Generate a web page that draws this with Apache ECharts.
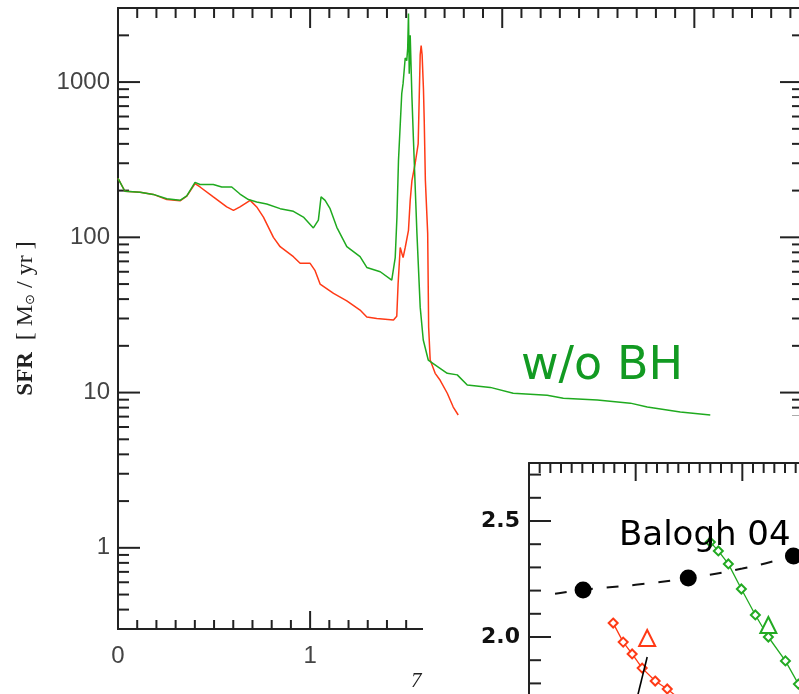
<!DOCTYPE html>
<html><head><meta charset="utf-8">
<script src="https://cdn.jsdelivr.net/npm/echarts@6/dist/echarts.min.js"></script>
<style>html,body{margin:0;padding:0;background:#fff}#c{width:799px;height:694px}</style>
</head><body><div id="c"></div><script>
// ---- main panel data (time in Gyr, SFR in Msun/yr) ----
const greenT = [0.000,0.008,0.036,0.115,0.184,0.254,0.323,0.358,0.401,0.427,0.496,0.540,0.592,0.635,0.679,0.722,0.774,0.844,0.913,0.965,1.017,1.043,1.057,1.078,1.104,1.139,1.191,1.260,1.295,1.365,1.425,1.443,1.452,1.460,1.477,1.484,1.495,1.503,1.508,1.512,1.516,1.521,1.530,1.538,1.556,1.573,1.589,1.615,1.667,1.714,1.766,1.818,1.938,2.057,2.234,2.318,2.495,2.667,2.755,2.927,3.083];
const greenSFR = [240,236,198,195,189,177,173,185,226,219,219,211,211,190,175,169,164,153,147,135,115,129,182,173,153,116,87,75,64,60,53,74,135,313,844,980,1430,1375,1650,2760,1130,2000,800,421,106,35.5,21.8,16.2,14.6,13.3,13.0,11.2,10.8,9.9,9.6,9.2,8.95,8.55,8.07,7.5,7.17];
const redT = [0.000,0.008,0.036,0.115,0.184,0.254,0.323,0.358,0.401,0.427,0.496,0.566,0.601,0.635,0.688,0.722,0.757,0.809,0.844,0.913,0.948,1.000,1.026,1.052,1.122,1.191,1.260,1.295,1.347,1.434,1.451,1.458,1.469,1.477,1.484,1.495,1.512,1.521,1.530,1.547,1.5625,1.568,1.573,1.578,1.583,1.590,1.594,1.600,1.612,1.617,1.625,1.651,1.677,1.714,1.745,1.771];
const redSFR = [240,236,198,195,189,175,172,184,222,211,182,157,149,157,173,157,135,100,87,75,68,68,61,50,43.5,39,34,30.7,30,29.3,31,50,86,86,74,86,111,173,232,300,400,800,1500,1717,1500,900,565,232,106,26.4,16.2,13.3,12.0,9.9,8.07,7.17];
const sfrMajorTicks = [1, 10, 100, 1000];
const sfrMinorTicks = [0.4,0.5,0.6,0.7,0.8,0.9,2,3,4,5,6,7,8,9,20,30,40,50,60,70,80,90,200,300,400,500,600,700,800,900,2000];
const timeMajorTicks = [1, 2, 3];
const timeMinorTicks = [0.1,0.2,0.3,0.4,0.5,0.6,0.7,0.8,0.9,1.1,1.2,1.3,1.4,1.5,1.6,1.7,1.8,1.9,2.1,2.2,2.3,2.4,2.5,2.6,2.7,2.8,2.9,3.1,3.2,3.3,3.4,3.5];

// ---- inset data ----
const baloghX = [0.507, 1.493, 2.479];
const baloghY = [2.203, 2.254, 2.349];
const baloghFitX = [0.244, 0.507, 1.0, 1.493, 2.0, 2.479, 3.0];
const baloghFitY = [2.186, 2.203, 2.225, 2.254, 2.295, 2.349, 2.41];
const insetGreenX = [1.700, 1.775, 1.869, 1.991, 2.122, 2.244, 2.404, 2.526, 2.640];
const insetGreenY = [2.409, 2.371, 2.315, 2.207, 2.095, 2.000, 1.897, 1.797, 1.705];
const insetRedX = [0.789, 0.883, 0.967, 1.061, 1.183, 1.296, 1.420];
const insetRedY = [2.060, 1.978, 1.927, 1.866, 1.810, 1.776, 1.730];
const triGreen = [2.244, 2.052];
const triRed = [1.108, 1.996];
const blackLineX = [1.108, 0.940];
const blackLineY = [1.914, 1.600];
const insetYMajor = [1.5, 2.0, 2.5];
const insetYMinor = [1.6,1.7,1.8,1.9,2.1,2.2,2.3,2.4,2.6,2.7];
const insetXMajor = [1, 2];
const insetXMinor = [0.1,0.2,0.3,0.4,0.5,0.6,0.7,0.8,0.9,1.1,1.2,1.3,1.4,1.5,1.6,1.7,1.8,1.9,2.1,2.2,2.3,2.4,2.5,2.6,2.7,2.8,2.9];

const zip = (a, b) => a.map((v, i) => [v, b[i]]);
const AX = '#222';

function tickSeries(xi, yi, values, side, len, xRef, yRef, z) {
  const data = (side === 'left' || side === 'right') ? values.map(v => [xRef, v]) : values.map(v => [v, yRef]);
  return {
    type: 'custom', xAxisIndex: xi, yAxisIndex: yi, z: z, silent: true, clip: false,
    data: data,
    renderItem(params, api) {
      const cs = params.coordSys;
      const p = api.coord([api.value(0), api.value(1)]);
      let s;
      if (side === 'left') s = {x1: cs.x, y1: p[1], x2: cs.x + len, y2: p[1]};
      else if (side === 'right') s = {x1: cs.x + cs.width, y1: p[1], x2: cs.x + cs.width - len, y2: p[1]};
      else if (side === 'top') s = {x1: p[0], y1: cs.y, x2: p[0], y2: cs.y + len};
      else s = {x1: p[0], y1: cs.y + cs.height, x2: p[0], y2: cs.y + cs.height - len};
      return {type: 'line', shape: s, style: {stroke: AX, lineWidth: 2}};
    }
  };
}

const labelFont = {fontFamily: 'Liberation Sans', fontSize: 24, color: '#444'};
const noTick = {show: false};
const chart = echarts.init(document.getElementById('c'), null, {renderer: 'canvas'});
const option = {
  animation: false,
  grid: [
    {left: 118, top: 8, width: 682, height: 621, outerBoundsMode: 'none', containLabel: false},
    {left: 529, top: 463, width: 320, height: 290, outerBoundsMode: 'none', containLabel: false}
  ],
  xAxis: [
    {type: 'value', gridIndex: 0, position: 'bottom', min: 0, max: 3.55, interval: 1, z: 0,
     axisLine: {lineStyle: {color: AX, width: 2}}, axisTick: noTick, splitLine: {show: false},
     axisLabel: Object.assign({margin: 15, showMaxLabel: false}, labelFont)},
    {type: 'value', gridIndex: 0, position: 'top', min: 0, max: 3.55, interval: 1, z: 0,
     axisLine: {lineStyle: {color: AX, width: 2}}, axisTick: noTick,
     splitLine: {show: false}, axisLabel: {show: false}},
    {type: 'value', gridIndex: 1, position: 'top', min: 0, max: 3, interval: 1, z: 60,
     axisLine: {lineStyle: {color: AX, width: 2}}, axisTick: noTick,
     splitLine: {show: false}, axisLabel: {show: false}}
  ],
  yAxis: [
    {type: 'log', logBase: 10, gridIndex: 0, position: 'left', min: 0.3, max: 3000, z: 0,
     axisLine: {show: true, lineStyle: {color: AX, width: 2}}, axisTick: noTick,
     splitLine: {show: false},
     axisLabel: Object.assign({margin: 8, showMinLabel: false, showMaxLabel: false,
       formatter: v => { const r = Math.round(v); return sfrMajorTicks.indexOf(r) >= 0 ? String(r) : ''; }}, labelFont),
     name: '{b|SFR}  [ M{s|\u2299} / yr ]', nameLocation: 'middle', nameRotate: 90, nameGap: 80,
     nameTextStyle: {fontFamily: 'Liberation Serif', fontSize: 24, color: '#222',
       rich: {b: {fontFamily: 'Liberation Serif', fontSize: 23, fontWeight: 'bold', color: '#222'},
              s: {fontFamily: 'DejaVu Sans', fontSize: 13, color: '#222', padding: [9, 0, 0, 0]}}}},
    {type: 'log', logBase: 10, gridIndex: 0, position: 'right', min: 0.3, max: 3000, z: 0,
     axisLine: {show: true, lineStyle: {color: AX, width: 2}}, axisTick: noTick,
     splitLine: {show: false}, axisLabel: {show: false}},
    {type: 'value', gridIndex: 1, position: 'left', min: 1.5, max: 2.75, interval: 0.5, z: 60,
     axisLine: {show: true, lineStyle: {color: AX, width: 2}}, axisTick: noTick,
     splitLine: {show: false},
     axisLabel: {margin: 9, showMaxLabel: false, fontFamily: 'DejaVu Sans', fontWeight: 'bold', fontSize: 22, color: '#111',
       formatter: v => v.toFixed(1)}}
  ],
  graphic: {elements: [
    {type: 'text', left: 411, top: 671, z: 40, style: {text: '7', font: 'italic 21px "Liberation Serif"', fill: '#222'}},
    {type: 'rect', shape: {x: 423, y: 416, width: 400, height: 300}, style: {fill: '#fff'}, z: 50},
    {type: 'text', left: 521, top: 344, z: 70, style: {text: 'w/o BH', font: '46px "DejaVu Sans"', fill: '#129a22'}},
    {type: 'text', left: 619, top: 519, z: 70, style: {text: 'Balogh 04', font: '34px "DejaVu Sans"', fill: '#000'}}
  ]},
  series: [
    {type: 'line', xAxisIndex: 0, yAxisIndex: 0, z: 2, data: zip(redT, redSFR), showSymbol: false,
     lineStyle: {color: '#ff3a16', width: 1.5}},
    {type: 'line', xAxisIndex: 0, yAxisIndex: 0, z: 3, data: zip(greenT, greenSFR), showSymbol: false,
     lineStyle: {color: '#1faa1f', width: 1.5}},
    tickSeries(0, 0, sfrMajorTicks, 'left', 22, 0, 1, 1),
    tickSeries(0, 0, sfrMinorTicks, 'left', 11, 0, 1, 1),
    tickSeries(0, 0, sfrMajorTicks, 'right', 20, 0, 1, 1),
    tickSeries(0, 0, sfrMinorTicks, 'right', 8, 0, 1, 1),
    tickSeries(0, 0, timeMajorTicks, 'bottom', 18, 0, 1, 1),
    tickSeries(0, 0, timeMinorTicks, 'bottom', 9, 0, 1, 1),
    tickSeries(0, 0, timeMajorTicks, 'top', 20, 0, 1, 1),
    tickSeries(0, 0, timeMinorTicks, 'top', 10, 0, 1, 1),
    // inset
    tickSeries(2, 2, insetYMajor, 'left', 22, 0, 2, 60),
    tickSeries(2, 2, insetYMinor, 'left', 12, 0, 2, 60),
    tickSeries(2, 2, insetXMajor, 'top', 18, 0, 2, 60),
    tickSeries(2, 2, insetXMinor, 'top', 10, 0, 2, 60),
    {type: 'line', xAxisIndex: 2, yAxisIndex: 2, z: 60, data: zip(baloghFitX, baloghFitY), smooth: true,
     showSymbol: false, lineStyle: {color: '#111', width: 2, type: [12, 14]}},
    {type: 'scatter', xAxisIndex: 2, yAxisIndex: 2, z: 61, data: zip(baloghX, baloghY), symbol: 'circle',
     symbolSize: 17, itemStyle: {color: '#000', opacity: 1}},
    {type: 'line', xAxisIndex: 2, yAxisIndex: 2, z: 60, data: zip(insetGreenX, insetGreenY), symbol: 'emptyDiamond',
     symbolSize: 9, showAllSymbol: true, lineStyle: {color: '#22aa22', width: 1.3}, itemStyle: {color: '#22aa22', borderWidth: 1.3}},
    {type: 'line', xAxisIndex: 2, yAxisIndex: 2, z: 60, data: zip(insetRedX, insetRedY), symbol: 'emptyDiamond',
     symbolSize: 9, showAllSymbol: true, lineStyle: {color: '#ff3a16', width: 1.3}, itemStyle: {color: '#ff3a16', borderWidth: 1.3}},
    {type: 'scatter', xAxisIndex: 2, yAxisIndex: 2, z: 61, data: [triGreen], symbol: 'emptyTriangle',
     symbolSize: 16, itemStyle: {color: '#22aa22', borderWidth: 1.6, opacity: 1}},
    {type: 'scatter', xAxisIndex: 2, yAxisIndex: 2, z: 61, data: [triRed], symbol: 'emptyTriangle',
     symbolSize: 16, itemStyle: {color: '#ff3a16', borderWidth: 1.6, opacity: 1}},
    {type: 'line', xAxisIndex: 2, yAxisIndex: 2, z: 61, data: zip(blackLineX, blackLineY), showSymbol: false,
     lineStyle: {color: '#000', width: 1.6}}
  ]
};
chart.setOption(option);
</script></body></html>
